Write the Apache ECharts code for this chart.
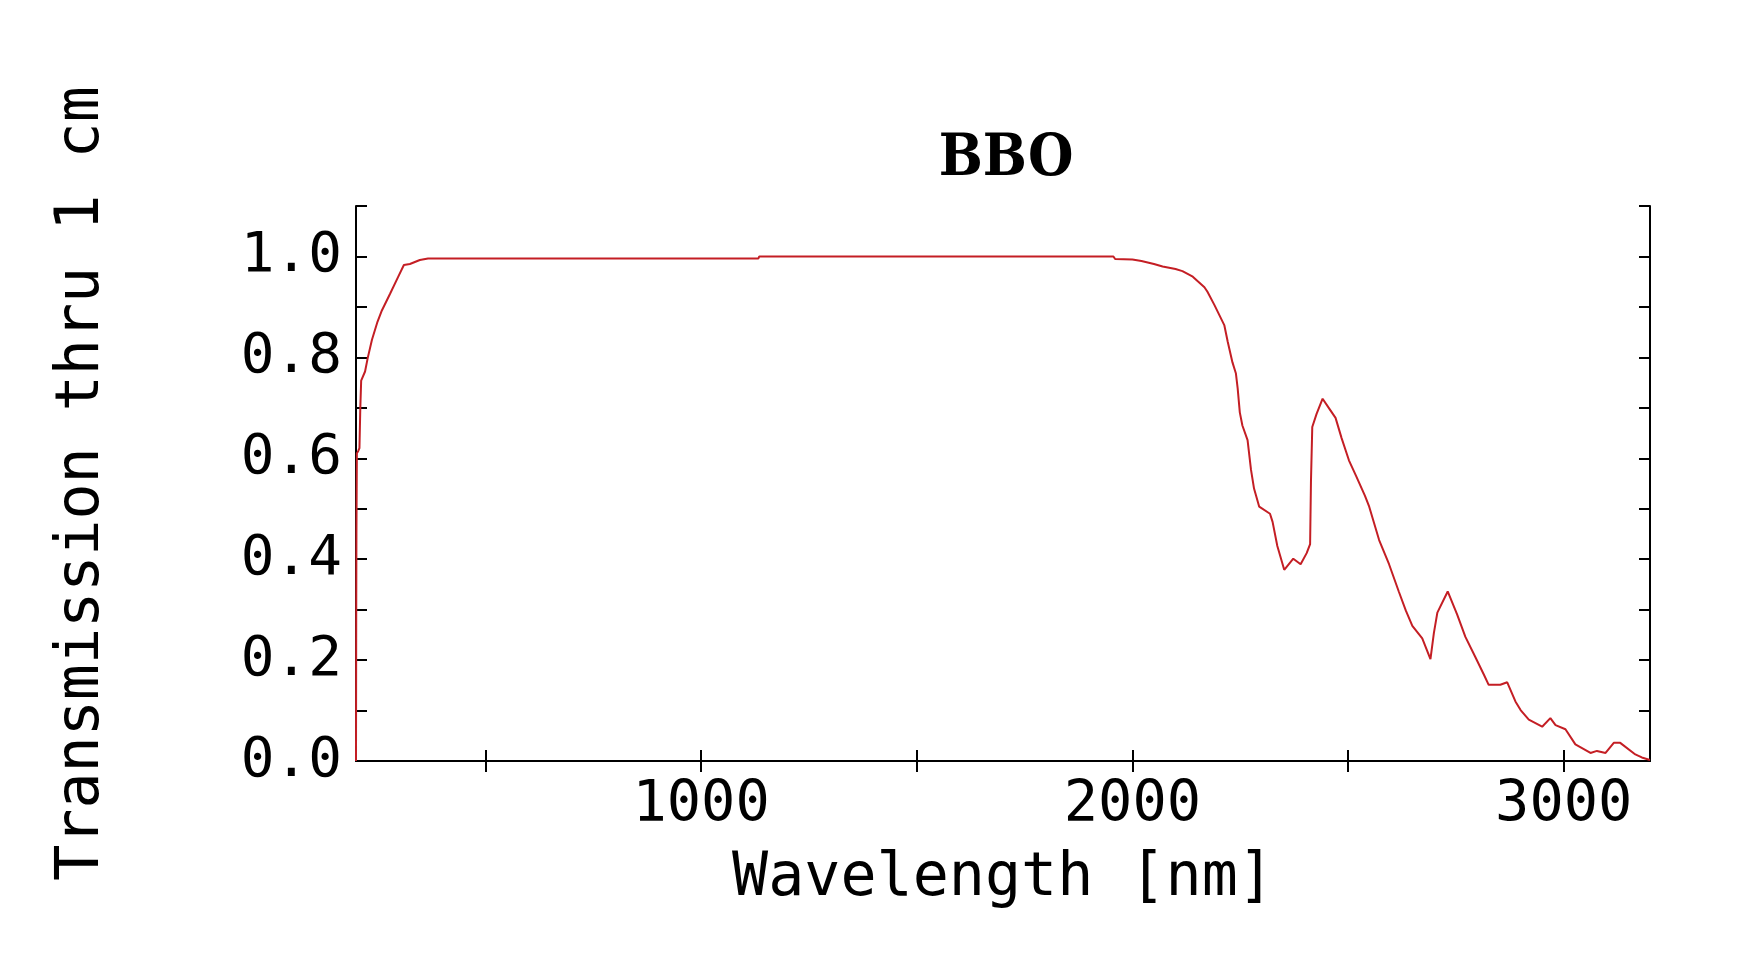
<!DOCTYPE html>
<html>
<head>
<meta charset="utf-8">
<script src="https://cdn.jsdelivr.net/npm/echarts@6/dist/echarts.min.js"></script>
<style>
html,body{margin:0;padding:0;background:#fff;}
#chart{width:1746px;height:959px;}
</style>
</head>
<body>
<div id="chart"></div>
<script>
const titleText = 'BBO';
const xName = 'Wavelength [nm]';
const yName = 'Transmission thru 1 cm';

const wavelength = [200,200.5,201,202,205,208,210,212,221,227,237,250,260,279,298,311,325,348,367,1133,1135,1956,1960,2000,2021,2050,2070,2100,2116,2140,2167,2174,2190,2213,2221,2232,2240,2244,2249,2255,2267,2275,2282,2294,2319,2325,2336,2352,2373,2390,2404,2412,2414,2417,2427,2441,2456,2471,2485,2502,2518,2539,2549,2572,2595,2618,2634,2649,2672,2691,2699,2707,2731,2753,2772,2795,2815,2826,2853,2869,2888,2900,2919,2950,2969,2981,3004,3027,3062,3077,3097,3116,3131,3166,3181,3200];
const transmission = [0,0.28,0.45,0.61,0.614,0.62,0.70,0.754,0.772,0.798,0.835,0.871,0.893,0.926,0.960,0.983,0.985,0.993,0.996,0.996,1.0,1.0,0.995,0.994,0.991,0.985,0.980,0.975,0.971,0.960,0.939,0.930,0.904,0.864,0.831,0.790,0.768,0.739,0.691,0.665,0.636,0.577,0.540,0.504,0.490,0.474,0.426,0.379,0.401,0.390,0.412,0.430,0.555,0.662,0.688,0.718,0.699,0.680,0.640,0.596,0.566,0.526,0.504,0.438,0.390,0.335,0.298,0.268,0.243,0.202,0.254,0.294,0.336,0.290,0.246,0.206,0.171,0.151,0.151,0.156,0.118,0.101,0.082,0.068,0.085,0.071,0.063,0.033,0.016,0.020,0.016,0.036,0.036,0.013,0.007,0.002];

const xTickValues = [500,1000,1500,2000,2500,3000];
const xLabelValues = [1000,2000,3000];
const yLabelValues = [0,0.2,0.4,0.6,0.8,1.0];

const seriesData = wavelength.map((w,i)=>[w, transmission[i]]);

const tickFont = 'DejaVu Sans Mono';
const nameFont = 'DejaVu Sans Mono';
const titleFont = '"DejaVu Serif Condensed", "Liberation Serif", serif';

const chart = echarts.init(document.getElementById('chart'), null, {renderer:'canvas'});
const axisLineStyle = {lineStyle:{color:'#000',width:2}};
const tickStyle = {inside:true,length:11,lineStyle:{color:'#000',width:2}};
chart.setOption({
  animation:false,
  backgroundColor:'#fff',
  title:{
    text:titleText,
    left:1001,
    top:126,
    textAlign:'center',
    textStyle:{fontFamily:titleFont,fontWeight:'bold',fontSize:58,color:'#000'}
  },
  grid:{left:356,right:96,top:206,bottom:198,containLabel:false},
  xAxis:[{
    type:'value',min:200,max:3200,position:'bottom',
    name:xName,nameLocation:'middle',nameGap:88,
    nameTextStyle:{fontFamily:nameFont,fontSize:60,color:'#000'},
    axisLine:axisLineStyle,
    axisTick:Object.assign({customValues:xTickValues},tickStyle),
    axisLabel:{customValues:xLabelValues,formatter:v=>String(v),fontFamily:tickFont,fontSize:57,color:'#000',margin:17},
    splitLine:{show:false}
  },{
    type:'value',min:200,max:3200,position:'top',
    axisLine:axisLineStyle,
    axisTick:Object.assign({customValues:xTickValues},tickStyle),
    axisLabel:{show:false},
    splitLine:{show:false}
  }],
  yAxis:[{
    type:'value',min:0,max:1.1,interval:0.1,position:'left',
    name:yName,nameLocation:'middle',nameGap:244,nameRotate:90,
    nameTextStyle:{fontFamily:nameFont,fontSize:60,color:'#000'},
    axisLine:axisLineStyle,
    axisTick:tickStyle,
    axisLabel:{customValues:yLabelValues,formatter:v=>v.toFixed(1),fontFamily:tickFont,fontSize:56,color:'#000',margin:14},
    splitLine:{show:false}
  },{
    type:'value',min:0,max:1.1,interval:0.1,position:'right',
    axisLine:axisLineStyle,
    axisTick:tickStyle,
    axisLabel:{show:false},
    splitLine:{show:false}
  }],
  series:[{
    type:'line',
    data:seriesData,
    showSymbol:false,
    symbol:'none',
    lineStyle:{color:'#c41e24',width:2},
    silent:true
  }]
});
</script>
</body>
</html>
